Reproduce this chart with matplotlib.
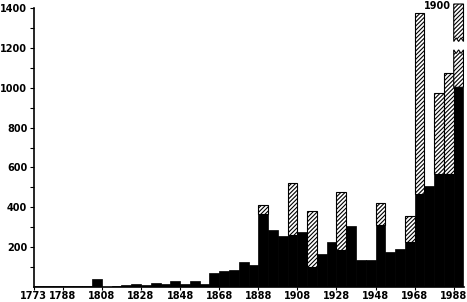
import matplotlib
matplotlib.use("Agg")
import matplotlib.pyplot as plt
from matplotlib.patches import Polygon
import numpy as np

# 5-year bins (start year of each bin)
bin_start = list(range(1773, 1989, 5))
# solid (black) part of each bar
black = [3, 3, 3, 3, 3, 3, 38, 2, 7, 10, 13, 8, 18, 13, 28, 13, 28, 17,
         68, 78, 83, 127, 110, 365, 287, 257, 260, 277, 98, 167, 227, 187,
         307, 133, 133, 310, 177, 193, 227, 468, 507, 565, 568, 1002]
# total height of each bar (hatched part reaches up to here)
total = [3, 3, 3, 3, 3, 3, 38, 2, 7, 10, 13, 8, 18, 13, 28, 13, 28, 17,
         68, 78, 83, 127, 110, 410, 287, 257, 522, 277, 383, 167, 227, 475,
         307, 133, 133, 420, 177, 193, 357, 1377, 507, 973, 1073, 1900]
xtick_years = [1773, 1788, 1808, 1828, 1848, 1868, 1888, 1908, 1928, 1948, 1968, 1988]
ytick_major = [200, 400, 600, 800, 1000, 1200, 1400]
ytick_minor = [100, 300, 500, 700, 900, 1100, 1300]

YMAX = 1400
BIN = 5
HATCH = '////////'
plt.rcParams['hatch.linewidth'] = 0.8
plt.rcParams['font.family'] = ['DejaVu Sans']

fig = plt.figure(figsize=(4.67, 3.02), dpi=100)
ax = fig.add_axes([33.5 / 467, 15 / 302, 430 / 467, 279 / 302])

x = np.array(bin_start)
b = np.array(black)
t = np.array(total)

ax.bar(x, b, width=BIN, align='edge', color='black', edgecolor='black', linewidth=0.5)

for xi, bi, ti in zip(x, b, t):
    if ti <= bi:
        continue
    if ti <= YMAX:
        ax.bar(xi, ti - bi, bottom=bi, width=BIN, align='edge', facecolor='white',
               edgecolor='black', hatch=HATCH, linewidth=0.8)
    else:
        # broken bar: lower piece with zigzag top, upper piece with zigzag bottom
        lo_top = 1172
        hi_bot = 1232
        z = 18
        xs = np.linspace(xi, xi + BIN, 5)
        zig_lo = [lo_top + (z if k % 2 == 0 else 0) for k in range(5)]
        pts = [(xi, bi), (xi + BIN, bi)] + [(xs[k], zig_lo[k]) for k in range(4, -1, -1)]
        ax.add_patch(Polygon(pts, closed=True, facecolor='white', edgecolor='black',
                             hatch=HATCH, linewidth=0.8))
        top = YMAX + 20
        zig_hi = [hi_bot + (0 if k % 2 == 0 else z) for k in range(5)]
        pts2 = [(xs[k], zig_hi[k]) for k in range(5)] + [(xi + BIN, top), (xi, top)]
        ax.add_patch(Polygon(pts2, closed=True, facecolor='white', edgecolor='black',
                             hatch=HATCH, linewidth=0.8, clip_on=False))
        ax.text(xi - 1.5, top - 8, f"{ti}", ha='right', va='center', fontsize=7,
                fontweight='bold', clip_on=False)

ax.set_xlim(1773, 1993)
ax.set_ylim(0, YMAX)
ax.set_xticks(xtick_years)
ax.set_xticklabels([str(v) for v in xtick_years], fontsize=7, fontweight='bold')
ax.set_yticks(ytick_major)
ax.set_yticklabels([str(v) for v in ytick_major], fontsize=7, fontweight='bold')
ax.set_yticks(ytick_minor, minor=True)
ax.tick_params(axis='both', which='both', direction='out', length=3, width=0.8, pad=1.5)
ax.tick_params(axis='x', which='both', length=2.5, pad=0.5)
for s in ['top', 'right']:
    ax.spines[s].set_visible(False)
for s in ['left', 'bottom']:
    ax.spines[s].set_linewidth(1.2)

fig.savefig('out.png', dpi=100)
